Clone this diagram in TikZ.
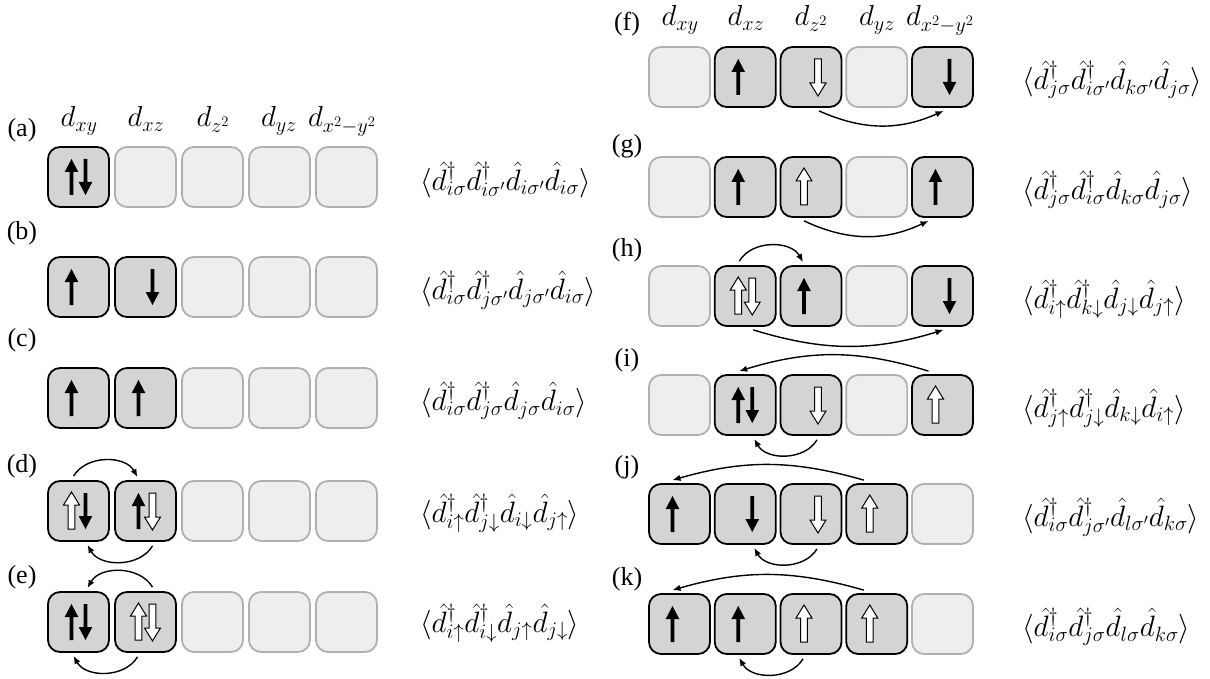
\RequirePackage{fix-cm}
\documentclass[tikz,border=0pt]{standalone}
\usepackage{fontspec}
\newfontfamily\lblfont{Liberation Serif}
\usetikzlibrary{arrows.meta}
\definecolor{occfill}{HTML}{D4D4D4}
\definecolor{empfill}{HTML}{EEEEEE}
\definecolor{empdraw}{HTML}{B0B0B0}
\newcommand{\rowL}[3]{\foreach \s [count=\n] in {#3} {\node[\s] (#1\n) at ({78.5+67*(\n-1)},#2) {};}}
\newcommand{\rowR}[3]{\foreach \s [count=\n] in {#3} {\node[\s] (#1\n) at ({679.5+65.75*(\n-1)},#2) {};}}
\begin{document}
\begin{tikzpicture}[x=1pt,y=-1pt,
  obox/.style={draw=black,fill=occfill,line width=1.8pt,rounded corners=12pt,minimum width=61pt,minimum height=60pt,inner sep=0pt},
  ebox/.style={draw=empdraw,fill=empfill,line width=1.8pt,rounded corners=12pt,minimum width=61pt,minimum height=60pt,inner sep=0pt},
  hop/.style={line width=1.4pt,-{Latex[length=8pt,width=6.5pt]}},
  lbl/.style={font=\lblfont\fontsize{26}{30}\selectfont,inner sep=0pt},
  hdr/.style={font=\fontsize{29}{34}\selectfont,inner sep=0pt,anchor=base},
  fml/.style={font=\fontsize{29.5}{35}\selectfont,inner sep=0pt,anchor=west},
  pics/fup/.style={code={\fill[black] (-1.9,18) -- (1.9,18) -- (1.9,-5) -- (6.8,-5) -- (0,-18) -- (-6.8,-5) -- (-1.9,-5) -- cycle;}},
  pics/fdn/.style={code={\fill[black] (-1.9,-18) -- (1.9,-18) -- (1.9,5) -- (6.8,5) -- (0,18) -- (-6.8,5) -- (-1.9,5) -- cycle;}},
  pics/hup/.style={code={\filldraw[fill=white,draw=black,line width=1pt,line join=miter] (-3.3,18) -- (3.3,18) -- (3.3,-6) -- (8,-6) -- (0,-19) -- (-8,-6) -- (-3.3,-6) -- cycle;}},
  pics/hdn/.style={code={\filldraw[fill=white,draw=black,line width=1pt,line join=miter] (-3.3,-18) -- (3.3,-18) -- (3.3,6) -- (8,6) -- (0,19) -- (-8,6) -- (-3.3,6) -- cycle;}},
]
\useasboundingbox (0,0) rectangle (1210,679);

% headers
\node[hdr] (hl1) at (79,127) {$d_{xy}$};
\node[hdr] (hl2) at (146,127) {$d_{xz}$};
\node[hdr] (hl3) at (213,127) {$d_{z^2}$};
\node[hdr] (hl4) at (279,127) {$d_{yz}$};
\node[hdr] (hl5) at (342,127) {$d_{x^2-y^2}$};
\node[hdr] (hr1) at (680,26) {$d_{xy}$};
\node[hdr] (hr2) at (746,26) {$d_{xz}$};
\node[hdr] (hr3) at (811,26) {$d_{z^2}$};
\node[hdr] (hr4) at (877,26) {$d_{yz}$};
\node[hdr] (hr5) at (940,26) {$d_{x^2-y^2}$};

% labels
\node[lbl] (la) at (22,130) {(a)};
\node[lbl] (lb) at (22,233) {(b)};
\node[lbl] (lc) at (22,340) {(c)};
\node[lbl] (ld) at (22,466) {(d)};
\node[lbl] (le) at (22,577) {(e)};
\node[lbl] (lf) at (627,24) {(f)};
\node[lbl] (lg) at (627,146) {(g)};
\node[lbl] (lh) at (627,250) {(h)};
\node[lbl] (li) at (627,360) {(i)};
\node[lbl] (lj) at (627,467) {(j)};
\node[lbl] (lk) at (627,579) {(k)};

% rows
\rowL{a}{177}{obox,ebox,ebox,ebox,ebox}
\rowL{b}{287}{obox,obox,ebox,ebox,ebox}
\rowL{c}{398}{obox,obox,ebox,ebox,ebox}
\rowL{d}{511}{obox,obox,ebox,ebox,ebox}
\rowL{e}{622}{obox,obox,ebox,ebox,ebox}
\rowR{f}{77}{ebox,obox,obox,ebox,obox}
\rowR{g}{187}{ebox,obox,obox,ebox,obox}
\rowR{h}{296}{ebox,obox,obox,ebox,obox}
\rowR{i}{405}{ebox,obox,obox,ebox,obox}
\rowR{j}{514}{obox,obox,obox,obox,ebox}
\rowR{k}{624}{obox,obox,obox,obox,ebox}

% spins
\pic at ([xshift=-7pt]a1.center) {fup}; \pic at ([xshift=7pt]a1.center) {fdn};
\pic at ([xshift=-7pt]b1.center) {fup}; \pic at ([xshift=7pt]b2.center) {fdn};
\pic at ([xshift=-7pt]c1.center) {fup}; \pic at ([xshift=-7pt]c2.center) {fup};
\pic at ([xshift=-7pt]d1.center) {hup}; \pic at ([xshift=7pt]d1.center) {fdn};
\pic at ([xshift=-7pt]d2.center) {fup}; \pic at ([xshift=7pt]d2.center) {hdn};
\pic at ([xshift=-7pt]e1.center) {fup}; \pic at ([xshift=7pt]e1.center) {fdn};
\pic at ([xshift=-7pt]e2.center) {hup}; \pic at ([xshift=7pt]e2.center) {hdn};
\pic at ([xshift=-7pt]f2.center) {fup}; \pic at ([xshift=7pt]f3.center) {hdn}; \pic at ([xshift=7pt]f5.center) {fdn};
\pic at ([xshift=-7pt]g2.center) {fup}; \pic at ([xshift=-7pt]g3.center) {hup}; \pic at ([xshift=-7pt]g5.center) {fup};
\pic at ([xshift=-7pt]h2.center) {hup}; \pic at ([xshift=7pt]h2.center) {hdn};
\pic at ([xshift=-7pt]h3.center) {fup}; \pic at ([xshift=7pt]h5.center) {fdn};
\pic at ([xshift=-7pt]i2.center) {fup}; \pic at ([xshift=7pt]i2.center) {fdn};
\pic at ([xshift=7pt]i3.center) {hdn}; \pic at ([xshift=-7pt]i5.center) {hup};
\pic at ([xshift=-7pt]j1.center) {fup}; \pic at ([xshift=7pt]j2.center) {fdn};
\pic at ([xshift=7pt]j3.center) {hdn}; \pic at ([xshift=-7pt]j4.center) {hup};
\pic at ([xshift=-7pt]k1.center) {fup}; \pic at ([xshift=-7pt]k2.center) {fup};
\pic at ([xshift=-7pt]k3.center) {hup}; \pic at ([xshift=-7pt]k4.center) {hup};

% hops
\draw[hop] ([xshift=-5pt,yshift=4pt]d1.north) to[bend left=60] ([xshift=-8pt,yshift=3pt]d2.north);
\draw[hop] ([xshift=7pt,yshift=-4pt]d2.south) to[bend left=60] ([xshift=9pt,yshift=-3pt]d1.south);
\draw[hop] ([xshift=7pt,yshift=4pt]e2.north) to[bend right=60] ([xshift=9pt,yshift=3pt]e1.north);
\draw[hop] ([xshift=-8pt,yshift=-4pt]e2.south) to[bend left=60] ([xshift=-5pt,yshift=-3pt]e1.south);
\draw[hop] ([xshift=8pt,yshift=-3pt]f3.south) to[bend right=24] ([xshift=1pt,yshift=-3pt]f5.south);
\draw[hop] ([xshift=-7pt,yshift=-3pt]g3.south) to[bend right=25] ([xshift=-14pt,yshift=-3pt]g5.south);
\draw[hop] ([xshift=-6pt,yshift=4pt]h2.north) to[bend left=60] ([xshift=-8pt,yshift=3pt]h3.north);
\draw[hop] ([xshift=8pt,yshift=-3pt]h2.south) to[bend right=17] ([xshift=1pt,yshift=-3pt]h5.south);
\draw[hop] ([xshift=-14pt,yshift=3pt]i5.north) to[bend right=17] ([xshift=-6pt,yshift=3pt]i2.north);
\draw[hop] ([xshift=6pt,yshift=-4pt]i3.south) to[bend left=60] ([xshift=9pt,yshift=-3pt]i2.south);
\draw[hop] ([xshift=-13pt,yshift=3pt]j4.north) to[bend right=16] ([xshift=-7pt,yshift=3pt]j1.north);
\draw[hop] ([xshift=6pt,yshift=-4pt]j3.south) to[bend left=60] ([xshift=9pt,yshift=-3pt]j2.south);
\draw[hop] ([xshift=-13pt,yshift=3pt]k4.north) to[bend right=16] ([xshift=-7pt,yshift=3pt]k1.north);
\draw[hop] ([xshift=-8pt,yshift=-4pt]k3.south) to[bend left=60] ([xshift=-6pt,yshift=-3pt]k2.south);

% formulas
\node[fml] (fa) at (420,180) {$\langle\hat{d}^\dagger_{i\sigma}\hat{d}^\dagger_{i\sigma'}\hat{d}_{i\sigma'}\hat{d}_{i\sigma}\rangle$};
\node[fml] (fb) at (420,290) {$\langle\hat{d}^\dagger_{i\sigma}\hat{d}^\dagger_{j\sigma'}\hat{d}_{j\sigma'}\hat{d}_{i\sigma}\rangle$};
\node[fml] (fc) at (420,401) {$\langle\hat{d}^\dagger_{i\sigma}\hat{d}^\dagger_{j\sigma}\hat{d}_{j\sigma}\hat{d}_{i\sigma}\rangle$};
\node[fml] (fd) at (420,513) {$\langle\hat{d}^\dagger_{i\uparrow}\hat{d}^\dagger_{j\downarrow}\hat{d}_{i\downarrow}\hat{d}_{j\uparrow}\rangle$};
\node[fml] (fe) at (420,623) {$\langle\hat{d}^\dagger_{i\uparrow}\hat{d}^\dagger_{i\downarrow}\hat{d}_{j\uparrow}\hat{d}_{j\downarrow}\rangle$};
\node[fml] (ff) at (1022,80) {$\langle\hat{d}^\dagger_{j\sigma}\hat{d}^\dagger_{i\sigma'}\hat{d}_{k\sigma'}\hat{d}_{j\sigma}\rangle$};
\node[fml] (fg) at (1022,190) {$\langle\hat{d}^\dagger_{j\sigma}\hat{d}^\dagger_{i\sigma}\hat{d}_{k\sigma}\hat{d}_{j\sigma}\rangle$};
\node[fml] (fh) at (1022,299) {$\langle\hat{d}^\dagger_{i\uparrow}\hat{d}^\dagger_{k\downarrow}\hat{d}_{j\downarrow}\hat{d}_{j\uparrow}\rangle$};
\node[fml] (fi) at (1022,408) {$\langle\hat{d}^\dagger_{j\uparrow}\hat{d}^\dagger_{j\downarrow}\hat{d}_{k\downarrow}\hat{d}_{i\uparrow}\rangle$};
\node[fml] (fj) at (1022,517) {$\langle\hat{d}^\dagger_{i\sigma}\hat{d}^\dagger_{j\sigma'}\hat{d}_{l\sigma'}\hat{d}_{k\sigma}\rangle$};
\node[fml] (fk) at (1022,627) {$\langle\hat{d}^\dagger_{i\sigma}\hat{d}^\dagger_{j\sigma}\hat{d}_{l\sigma}\hat{d}_{k\sigma}\rangle$};
\end{tikzpicture}
\end{document}
